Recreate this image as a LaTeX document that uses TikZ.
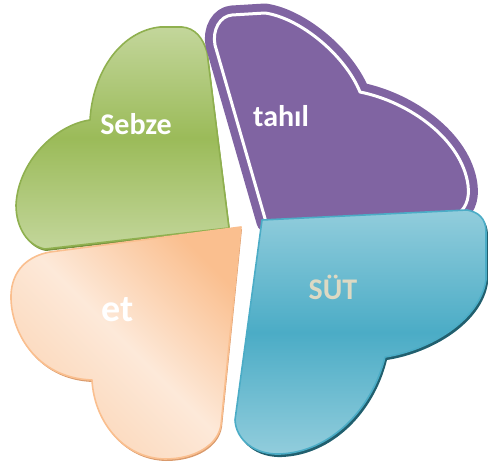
\documentclass[tikz,border=0pt]{standalone}
\usepackage{fontspec}
\setmainfont{Carlito}
\definecolor{sebzemid}{HTML}{9BBB59}
\definecolor{sebzelight}{HTML}{C3D69B}
\definecolor{sebzeline}{HTML}{8FB04F}
\definecolor{sebzeshade}{HTML}{76923C}
\definecolor{tahilpurple}{HTML}{8064A2}
\definecolor{sutmid}{HTML}{4BACC6}
\definecolor{sutlight}{HTML}{92CDDC}
\definecolor{sutshade}{HTML}{215F6E}
\definecolor{sutword}{HTML}{DDD9C3}
\definecolor{etorange}{HTML}{FABF8F}
\definecolor{etlight}{HTML}{FDE9D9}
\definecolor{etmid}{HTML}{FBD4B4}
\definecolor{etshade}{HTML}{D99A6C}
\tikzset{
  petal text/.style={font=\bfseries\fontsize{30}{36}\selectfont, text=white, anchor=base, inner sep=0pt},
  petal line/.style={line width=1.6pt, line join=round}
}
\begin{document}
\begin{tikzpicture}[x=1pt, y=-1pt]
      \useasboundingbox (0,0) rectangle (488,468);
      \def\sebzepath{(229,228) -- (207,52) .. controls (203,38) and (195,28) .. (182,27) -- (160,27)
        .. controls (122,31) and (93,70) .. (90,120) .. controls (55,125) and (18,162) .. (16,205)
        .. controls (16,228) and (28,246) .. (45,249) -- cycle}
      \def\tahilpath{(266,222) -- (215,45) .. controls (212,30) and (220,16) .. (232,15) -- (265,13)
        .. controls (300,18) and (345,55) .. (360,92) .. controls (410,102) and (462,140) .. (468,185)
        .. controls (470,200) and (465,210) .. (455,216) -- cycle}
      \def\sutpath{(262,220) -- (467,210) .. controls (478,212) and (486,218) .. (486,232) -- (486,280)
        .. controls (480,320) and (430,350) .. (385,357) .. controls (372,410) and (330,452) .. (280,454)
        .. controls (255,455) and (236,440) .. (235,420) -- cycle}
      \def\etpath{(241,227) -- (50,252) .. controls (28,256) and (12,270) .. (11,295)
        .. controls (10,330) and (35,378) .. (92,380) .. controls (94,420) and (122,458) .. (165,459)
        .. controls (195,459) and (218,445) .. (221,425) -- cycle}
      % Draw Sebze and tahil first, they lie behind
      \fill[sebzeshade, shift={(1,2)}] \sebzepath;
      \draw[petal line, draw=sebzeline, top color=sebzelight, bottom color=sebzelight, middle color=sebzemid] \sebzepath;
      \draw[line width=19pt, line join=round, draw=tahilpurple, fill=tahilpurple] \tahilpath;
      \draw[line width=3pt, line join=round, white] \tahilpath;
      % Draw et and SUT on top
      \fill[etshade, shift={(1,2)}] \etpath;
      \draw[petal line, draw=etorange, top color=etorange, bottom color=etmid, middle color=etlight, shading angle=-45] \etpath;
      \fill[sutshade, shift={(2,3)}] \sutpath;
      \draw[petal line, draw=sutmid, top color=sutlight, bottom color=sutlight, middle color=sutmid] \sutpath;
      % Labels
      \node[petal text] (sebze) at (136,135) {Sebze};
      \node[petal text] (tahil) at (281,127) {tahıl};
      \node[petal text, text=sutword] (sut) at (333,300) {SÜT};
      \node[petal text, font=\bfseries\fontsize{38}{44}\selectfont] (et) at (118,322) {et};
\end{tikzpicture}
\end{document}
